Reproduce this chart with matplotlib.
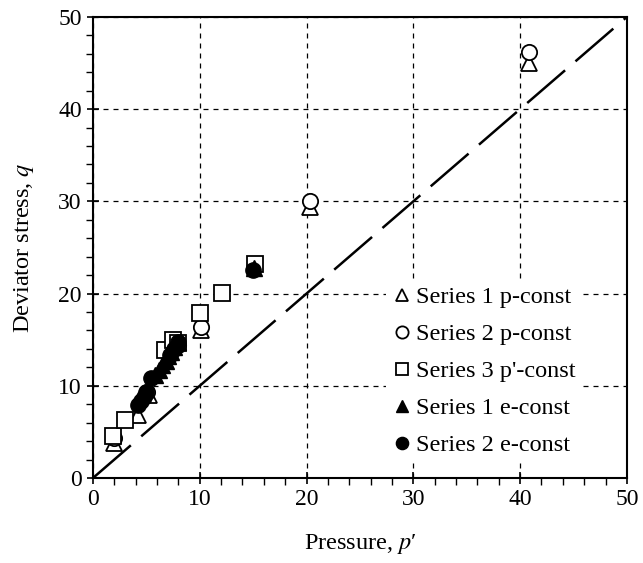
import matplotlib
matplotlib.use("Agg")
import matplotlib.pyplot as plt
from matplotlib.ticker import MultipleLocator

plt.rcParams['font.family'] = ['Liberation Serif', 'DejaVu Serif']
plt.rcParams['mathtext.fontset'] = 'stix'

# series
s1p_p = [2.0, 4.2, 5.2, 10.1, 20.3, 40.8]
s1p_q = [3.8, 6.8, 9.0, 16.0, 29.4, 45.0]
s2p_p = [2.0, 5.1, 8.0, 10.1, 20.3, 40.8]
s2p_q = [4.3, 9.3, 14.4, 16.4, 30.0, 46.2]
s3_p = [1.9, 3.0, 6.7, 7.5, 8.0, 10.0, 12.1, 15.2]
s3_q = [4.6, 6.3, 13.9, 15.0, 14.6, 17.9, 20.1, 23.2]
s1e_p = [5.8, 6.2, 6.5, 6.8, 7.0, 7.3, 7.6, 8.0, 15.1]
s1e_q = [11.2, 11.7, 12.2, 12.7, 13.2, 13.7, 14.2, 14.8, 22.8]
s2e_p = [4.2, 4.5, 4.8, 5.0, 5.4, 7.2, 7.6, 8.0, 15.0]
s2e_q = [7.9, 8.3, 8.8, 9.3, 10.8, 13.3, 14.0, 14.8, 22.6]
line_p = [0, 50]
line_q = [0, 50]

fig = plt.figure(figsize=(6.43, 5.63), dpi=100)
ax = fig.add_axes([0.1446, 0.151, 0.8304, 0.819])

ax.plot(line_p, line_q, color='black', lw=1.8, dashes=(20, 5.5))

ms = 11
ax.plot(s1p_p, s1p_q, ls='none', marker='^', ms=ms, mfc='white', mec='black', mew=1.3, label='Series 1 p-const')
ax.plot(s2p_p, s2p_q, ls='none', marker='o', ms=ms, mfc='white', mec='black', mew=1.3, label='Series 2 p-const')
ax.plot(s3_p, s3_q, ls='none', marker='s', ms=ms, mfc='white', mec='black', mew=1.3, label="Series 3 p'-const")
ax.plot(s1e_p, s1e_q, ls='none', marker='^', ms=ms, mfc='black', mec='black', label='Series 1 e-const')
ax.plot(s2e_p, s2e_q, ls='none', marker='o', ms=ms, mfc='black', mec='black', label='Series 2 e-const')

ax.set_xlim(0, 50)
ax.set_ylim(0, 50)
ax.xaxis.set_major_locator(MultipleLocator(10))
ax.yaxis.set_major_locator(MultipleLocator(10))
ax.xaxis.set_minor_locator(MultipleLocator(2))
ax.yaxis.set_minor_locator(MultipleLocator(2))
ax.tick_params(which='major', direction='inout', length=9, width=1.2, labelsize=17)
ax.tick_params(which='minor', direction='out', length=5, width=1)
ax.grid(True, which='major', color='black', ls=(0, (4, 4)), lw=0.9)
for sp in ax.spines.values():
    sp.set_linewidth(1.5)

ax.set_xlabel("Pressure, $p$\u2032", fontsize=17.5, labelpad=16)
ax.set_ylabel("Deviator stress, $q$", fontsize=17.5, labelpad=16)

leg = ax.legend(loc='lower right', bbox_to_anchor=(0.935, 0.01), frameon=True,
                fontsize=17.5, markerscale=0.8, handletextpad=0.1, handlelength=0.9,
                labelspacing=0.62, borderpad=0.2, fancybox=False)
leg.get_frame().set_edgecolor('none')
leg.get_frame().set_facecolor('white')
leg.get_frame().set_alpha(1)

fig.savefig('out.png', dpi=100)
